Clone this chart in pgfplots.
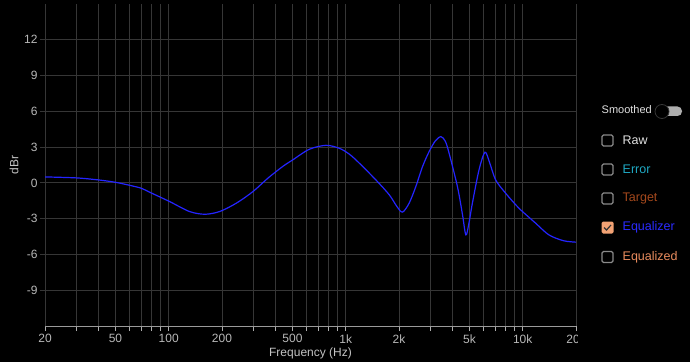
\documentclass[border=0pt]{standalone}
\usepackage{fontspec}
\setmainfont{Liberation Sans}
\usepackage{pgfplots}
\pgfplotsset{compat=1.18}
\definecolor{bg}{HTML}{000000}
\definecolor{gridgray}{HTML}{363636}
\definecolor{axisgray}{HTML}{9A9A9A}
\definecolor{labelgray}{HTML}{B8B8B8}
\definecolor{curve}{HTML}{2424FF}
\definecolor{rawc}{HTML}{E0E0E0}
\definecolor{errc}{HTML}{1FA9C4}
\definecolor{tgtc}{HTML}{A4481C}
\definecolor{eqc}{HTML}{2B2BFF}
\definecolor{eqdc}{HTML}{E98C5E}
\definecolor{boxc}{HTML}{8A8A8A}
\definecolor{checkfill}{HTML}{F2A274}
\begin{document}
\begin{tikzpicture}
\useasboundingbox (0pt,0pt) rectangle (690pt,362pt);
\fill[bg] (0pt,0pt) rectangle (690pt,362pt);
\begin{axis}[
  at={(45pt,36pt)}, anchor=south west,
  scale only axis, width=531pt, height=322pt,
  xmode=log, log basis x=10,
  xmin=20, xmax=20000, ymin=-12, ymax=15,
  axis x line*=bottom, axis y line*=left,
  x axis line style={draw=axisgray, line width=0.9pt, -},
  y axis line style={draw=gridgray, line width=0.9pt, -},
  xtick={20,50,100,200,500,1000,2000,5000,10000,20000},
  xticklabels={20,50,100,200,500,1k,2k,5k,10k,20k},
  minor xtick={30,40,60,70,80,90,300,400,600,700,800,900,3000,4000,6000,7000,8000,9000},
  ytick={-9,-6,-3,0,3,6,9,12},
  grid=both,
  major grid style={draw=gridgray, line width=0.9pt},
  minor grid style={draw=gridgray, line width=0.9pt},
  tick align=outside,
  major tick length=5pt, minor tick length=5pt,
  x tick style={draw=axisgray!80, line width=0.8pt},
  y tick style={draw=gridgray, line width=0.9pt},
  /pgf/number format/assume math mode=true,
  ticklabel style={font=\fontsize{12}{14}\selectfont, text=labelgray},
  yticklabel style={xshift=1pt},
  xlabel={Frequency (Hz)},
  ylabel={dBr},
  xlabel style={at={(axis description cs:0.5,-0.084)}, anchor=center, font=\fontsize{12}{14}\selectfont, text=labelgray!85},
  ylabel style={at={(axis description cs:-0.0584,0.5)}, anchor=center, font=\fontsize{12}{14}\selectfont, text=labelgray!85},
  clip=true,
]
\addplot[curve, line width=1.2pt, smooth] coordinates {
(20,0.5) (30,0.42) (40,0.25) (50,0.05) (60,-0.2) (70,-0.45) (78,-0.78)
(101,-1.56) (131,-2.4) (160,-2.63) (194,-2.4) (241,-1.7) (299,-0.73)
(363,0.39) (440,1.37) (502,1.93) (623,2.82) (774,3.15) (920,2.9) (1050,2.4)
(1194,1.65) (1480,0.25) (1762,-1.0) (1950,-2.0) (2094,-2.45) (2282,-1.7)
(2490,-0.3) (2716,1.37) (2960,2.63) (3200,3.5) (3446,3.88) (3650,3.5)
(3836,2.5) (4275,-0.3) (4560,-2.6) (4770,-4.36) (4950,-3.5) (5195,-1.7)
(5663,1.09) (6120,2.57) (6500,1.7) (7030,0.25) (8010,-0.87) (9520,-2.12)
(11830,-3.38) (14060,-4.36) (17000,-4.85) (20000,-4.97)
};
\end{axis}
% clip the last tick label like the reference
\fill[bg] (578pt,10pt) rectangle (600pt,30pt);
% legend panel
\node[anchor=west, inner sep=0pt, text=rawc, font=\fontsize{11}{13}\selectfont] at (601.5pt,252pt) {Smoothed};
\fill[rounded corners=4.5pt, fill=axisgray!80] (657pt,246pt) rectangle (682pt,255.5pt);
\filldraw[fill=black, draw=gridgray, line width=0.8pt] (662pt,250.5pt) circle (7pt);
\foreach \yy/\lab/\col in {221.5/Raw/rawc, 192.5/Error/errc, 163.5/Target/tgtc, 105/Equalized/eqdc}{
  \draw[boxc, line width=1.1pt, rounded corners=1.5pt] (602pt,\yy pt-5.5pt) rectangle (613pt,\yy pt+5.5pt);
  \node[anchor=west, inner sep=0pt, text=\col, font=\fontsize{12.5}{14}\selectfont] at (622.5pt,\yy pt) {\lab};
}
\fill[checkfill, rounded corners=1.5pt] (601.5pt,128.5pt) rectangle (613.5pt,140.5pt);
\draw[black!80, line width=1.2pt] (604pt,134.5pt) -- (606.5pt,132pt) -- (611pt,137pt);
\node[anchor=west, inner sep=0pt, text=eqc, font=\fontsize{12.5}{14}\selectfont] at (622.5pt,134.5pt) {Equalizer};
\end{tikzpicture}
\end{document}
